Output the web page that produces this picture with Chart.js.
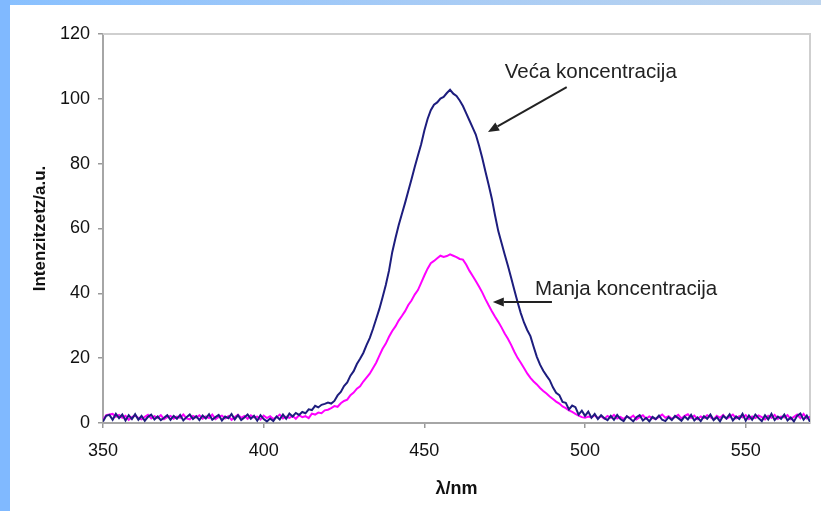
<!DOCTYPE html>
<html>
<head>
<meta charset="utf-8">
<script src="https://cdn.jsdelivr.net/npm/chart.js@4.4.1/dist/chart.umd.min.js"></script>
<style>
  html, body { margin: 0; padding: 0; background: #fff; }
  body { width: 821px; height: 511px; position: relative; overflow: hidden; }
  #bandTop { position: absolute; left: 0; top: 0; width: 821px; height: 5px;
             background: linear-gradient(to right, #88c0ff, #a6cbf6 50%, #bcd4ee); }
  #bandLeft { position: absolute; left: 0; top: 0; width: 10px; height: 511px; background: #80b9ff; }
  #wrap { position: absolute; left: 0; top: 0; width: 821px; height: 511px; }
</style>
</head>
<body>
<div id="bandTop"></div>
<div id="bandLeft"></div>
<div id="wrap"><canvas id="spectrum"></canvas></div>
<script>
// ===== Data =====
// wavelength axis: 350..570 nm, 1 nm step
const lambdaStart = 350;
const lambdaStep = 1;

// higher concentration
const vecaKonc = [
  0.5, 2.2, 2.5, 1.0, 2.8, 1.5, 2.6, 0.8, 2.4, 1.2,
  2.7, 1.0, 2.2, 0.7, 1.9, 2.6, 1.1, 2.0, 0.9, 1.6,
  2.4, 1.0, 2.2, 1.3, 2.5, 0.8, 1.8, 2.6, 1.2, 2.1,
  0.9, 2.3, 1.4, 2.7, 1.0, 1.8, 2.5, 0.8, 2.0, 1.5,
  2.8, 1.1, 2.4, 0.9, 1.7, 2.6, 1.3, 2.2, 0.7, 2.4,
  1.2, 0.5, 1.4, 0.6, 2.0, 1.1, 2.6, 1.3, 2.9, 2.0,
  3.1, 2.5, 3.4, 3.0, 4.2, 4.0, 5.3, 4.8, 5.6, 5.9,
  6.3, 6.0, 6.8, 8.5, 9.6, 11.4, 12.5, 14.6, 16.0, 18.2,
  19.8, 21.6, 24.0, 26.2, 29.0, 32.1, 35.2, 38.8, 42.6, 47.0,
  52.7, 57.0, 61.0, 64.5, 67.9, 71.6, 75.2, 79.0, 82.5, 86.0,
  90.2, 93.8, 96.5, 98.2, 98.9, 100.1, 100.6, 101.8, 102.8, 101.6,
  100.9, 99.5, 97.8, 95.6, 93.4, 91.2, 89.0, 85.6, 81.8, 77.6,
  73.5, 69.2, 64.0, 59.2, 55.6, 52.0, 48.5, 44.8, 41.0, 37.3,
  33.9, 31.0, 28.7, 26.8, 23.5, 20.4, 18.0, 16.1, 14.6, 13.2,
  11.0, 9.3, 8.6, 6.5, 6.2, 4.2, 5.4, 4.9, 2.6, 3.8,
  2.2, 3.5, 1.6, 2.8, 1.2, 2.4, 1.5, 0.9, 2.2, 1.0,
  2.5, 1.2, 0.6, 2.1, 1.4, 0.5, 1.8, 2.4, 0.8, 1.6,
  0.5, 1.9, 1.2, 2.3, 1.0, 0.6, 1.8, 0.9, 2.2, 1.5,
  0.7, 2.0, 1.1, 2.5, 0.8, 1.7, 0.6, 2.1, 1.3, 2.6,
  0.9, 1.8, 0.5, 2.2, 1.4, 2.7, 0.8, 2.0, 1.2, 2.8,
  0.7, 2.3, 1.0, 2.6, 1.5, 0.6, 2.4, 1.1, 2.8, 0.9,
  2.0, 1.3, 2.6, 0.8, 1.7, 0.5, 2.2, 2.9, 1.0, 2.3,
  0.4
];

// lower concentration
const manjaKonc = [
  1.0, 2.4, 2.6, 2.8, 1.9, 2.5, 1.6, 2.2, 1.0, 1.8,
  2.3, 1.5, 1.1, 1.9, 2.5, 1.4, 2.1, 1.6, 2.4, 1.2,
  1.8, 2.2, 1.3, 2.0, 1.6, 2.6, 1.4, 1.1, 2.2, 1.7,
  2.4, 1.3, 2.0, 1.5, 2.6, 1.2, 1.9, 2.3, 1.4, 2.1,
  1.0, 1.8, 2.5, 1.6, 2.2, 1.3, 2.4, 1.7, 2.0, 1.1,
  2.3, 1.5, 2.1, 1.2, 1.8, 2.6, 1.4, 2.0, 1.6, 2.2,
  1.3, 2.4, 1.8, 2.1, 1.5, 2.9, 2.6, 3.2, 3.0, 3.9,
  4.1, 4.6, 5.2, 5.0, 6.1, 6.8, 7.2, 8.6, 9.4, 10.6,
  11.3, 12.8, 14.0, 15.2, 16.9, 18.6, 20.8, 22.9, 24.5, 26.6,
  28.4, 29.8, 31.6, 33.0, 34.5, 36.4, 37.8, 39.6, 41.0, 43.2,
  45.5, 47.6, 49.3, 50.0, 50.8, 51.6, 51.2, 51.5, 52.0, 51.6,
  51.2, 50.6, 50.4, 48.9, 47.0, 45.4, 43.8, 42.1, 40.3, 38.2,
  36.3, 34.5, 32.8, 31.2, 29.5, 27.6, 26.0, 24.1, 22.0, 20.1,
  18.6, 17.0, 15.3, 13.9, 12.8, 11.9, 10.8, 9.9, 9.1, 8.2,
  7.4, 6.6, 6.0, 5.1, 4.6, 3.9, 3.4, 2.8, 2.3, 1.8,
  1.6, 2.0, 1.7, 2.4, 1.5, 2.1, 1.3, 2.2, 1.6, 2.5,
  1.4, 1.9, 1.2, 2.0, 1.5, 2.3, 1.1, 1.8, 2.4, 1.3,
  2.0, 1.5, 1.2, 1.9, 2.6, 1.6, 2.1, 1.3, 1.8, 2.5,
  1.4, 2.2, 2.7, 1.6, 2.3, 1.2, 2.0, 1.5, 2.4, 1.8,
  1.1, 2.2, 1.6, 2.5, 1.3, 1.9, 2.6, 1.4, 2.1, 1.7,
  2.4, 1.2, 2.0, 1.5, 2.3, 1.8, 1.1, 2.2, 1.6, 2.5,
  1.3, 2.0, 1.7, 2.4, 1.2, 1.9, 2.6, 1.5, 2.8, 1.4,
  2.0
];

const xTicks = [350, 400, 450, 500, 550];
const yTicks = [0, 20, 40, 60, 80, 100, 120];

// callouts: text anchor (left, middle) and arrow tail -> tip, in data units
const callouts = [
  { text: 'Veća koncentracija', at: [475.0, 108.3], from: [494.3, 103.6], to: [469.8, 89.8] },
  { text: 'Manja koncentracija', at: [484.4, 41.3], from: [489.7, 37.3], to: [471.3, 37.3] }
];

const toPoints = vals => vals.map((v, i) => ({ x: lambdaStart + i * lambdaStep, y: v }));

// ===== Plugins =====
const plotFrame = {
  id: 'plotFrame',
  beforeDatasetsDraw(chart) {
    const { ctx, chartArea: a } = chart;
    ctx.save();
    ctx.strokeStyle = '#cfcfcf';
    ctx.lineWidth = 2;
    ctx.beginPath();
    ctx.moveTo(a.left, a.top);
    ctx.lineTo(a.right, a.top);
    ctx.lineTo(a.right, a.bottom);
    ctx.stroke();
    ctx.restore();
  }
};

const calloutPlugin = {
  id: 'callouts',
  afterDatasetsDraw(chart) {
    const { ctx, scales: { x, y } } = chart;
    ctx.save();
    ctx.font = '20.5px "Liberation Sans", Arial, sans-serif';
    ctx.textBaseline = 'middle';
    ctx.textAlign = 'left';
    callouts.forEach(c => {
      ctx.fillStyle = '#222';
      ctx.fillText(c.text, x.getPixelForValue(c.at[0]), y.getPixelForValue(c.at[1]));

      const x0 = x.getPixelForValue(c.from[0]), y0 = y.getPixelForValue(c.from[1]);
      const x1 = x.getPixelForValue(c.to[0]), y1 = y.getPixelForValue(c.to[1]);
      const ang = Math.atan2(y1 - y0, x1 - x0);
      const head = 11, half = 4.5;
      const bx = x1 - head * Math.cos(ang), by = y1 - head * Math.sin(ang);
      ctx.strokeStyle = '#222';
      ctx.lineWidth = 2;
      ctx.beginPath();
      ctx.moveTo(x0, y0);
      ctx.lineTo(bx, by);
      ctx.stroke();
      ctx.beginPath();
      ctx.moveTo(x1, y1);
      ctx.lineTo(bx + half * Math.sin(ang), by - half * Math.cos(ang));
      ctx.lineTo(bx - half * Math.sin(ang), by + half * Math.cos(ang));
      ctx.closePath();
      ctx.fill();
    });
    ctx.restore();
  }
};

// ===== Chart =====
const family = '"Liberation Sans", Arial, sans-serif';
const tickFont = { family, size: 18 };

new Chart(document.getElementById('spectrum'), {
  type: 'line',
  data: {
    datasets: [
      { label: 'Veća koncentracija', data: toPoints(vecaKonc), borderColor: '#1d1d7e', borderWidth: 2 },
      { label: 'Manja koncentracija', data: toPoints(manjaKonc), borderColor: '#ff00ff', borderWidth: 2 }
    ]
  },
  options: {
    responsive: true,
    maintainAspectRatio: false,
    animation: false,
    layout: { padding: { left: 0, top: 34, right: 11, bottom: 0 } },
    elements: { point: { radius: 0 }, line: { tension: 0 } },
    plugins: { legend: { display: false }, tooltip: { enabled: false } },
    scales: {
      x: {
        type: 'linear',
        min: 350,
        max: 570,
        afterBuildTicks: s => { s.ticks = xTicks.map(v => ({ value: v })); },
        afterFit: s => { s.height = 88; },
        ticks: { color: '#111', font: tickFont, padding: 12, maxRotation: 0 },
        grid: { drawOnChartArea: false, drawTicks: true, tickLength: 5, color: '#999', lineWidth: 1.5 },
        border: { color: '#a6a6a6', width: 2 },
        title: { display: true, text: 'λ/nm', color: '#111', font: { family, size: 18, weight: 'bold' }, padding: { top: 0, bottom: 11 } }
      },
      y: {
        min: 0,
        max: 120,
        afterBuildTicks: s => { s.ticks = yTicks.map(v => ({ value: v })); },
        afterFit: s => { s.width = 103; },
        ticks: { color: '#111', font: tickFont, padding: 8 },
        grid: { drawOnChartArea: false, drawTicks: true, tickLength: 5, color: '#999', lineWidth: 1.5 },
        border: { color: '#a6a6a6', width: 2 },
        title: { display: true, text: 'Intenzitzetz/a.u.', color: '#111', font: { family, size: 17, weight: 'bold' }, padding: { top: 30, bottom: 0 } }
      }
    }
  },
  plugins: [plotFrame, calloutPlugin]
});
</script>
</body>
</html>
